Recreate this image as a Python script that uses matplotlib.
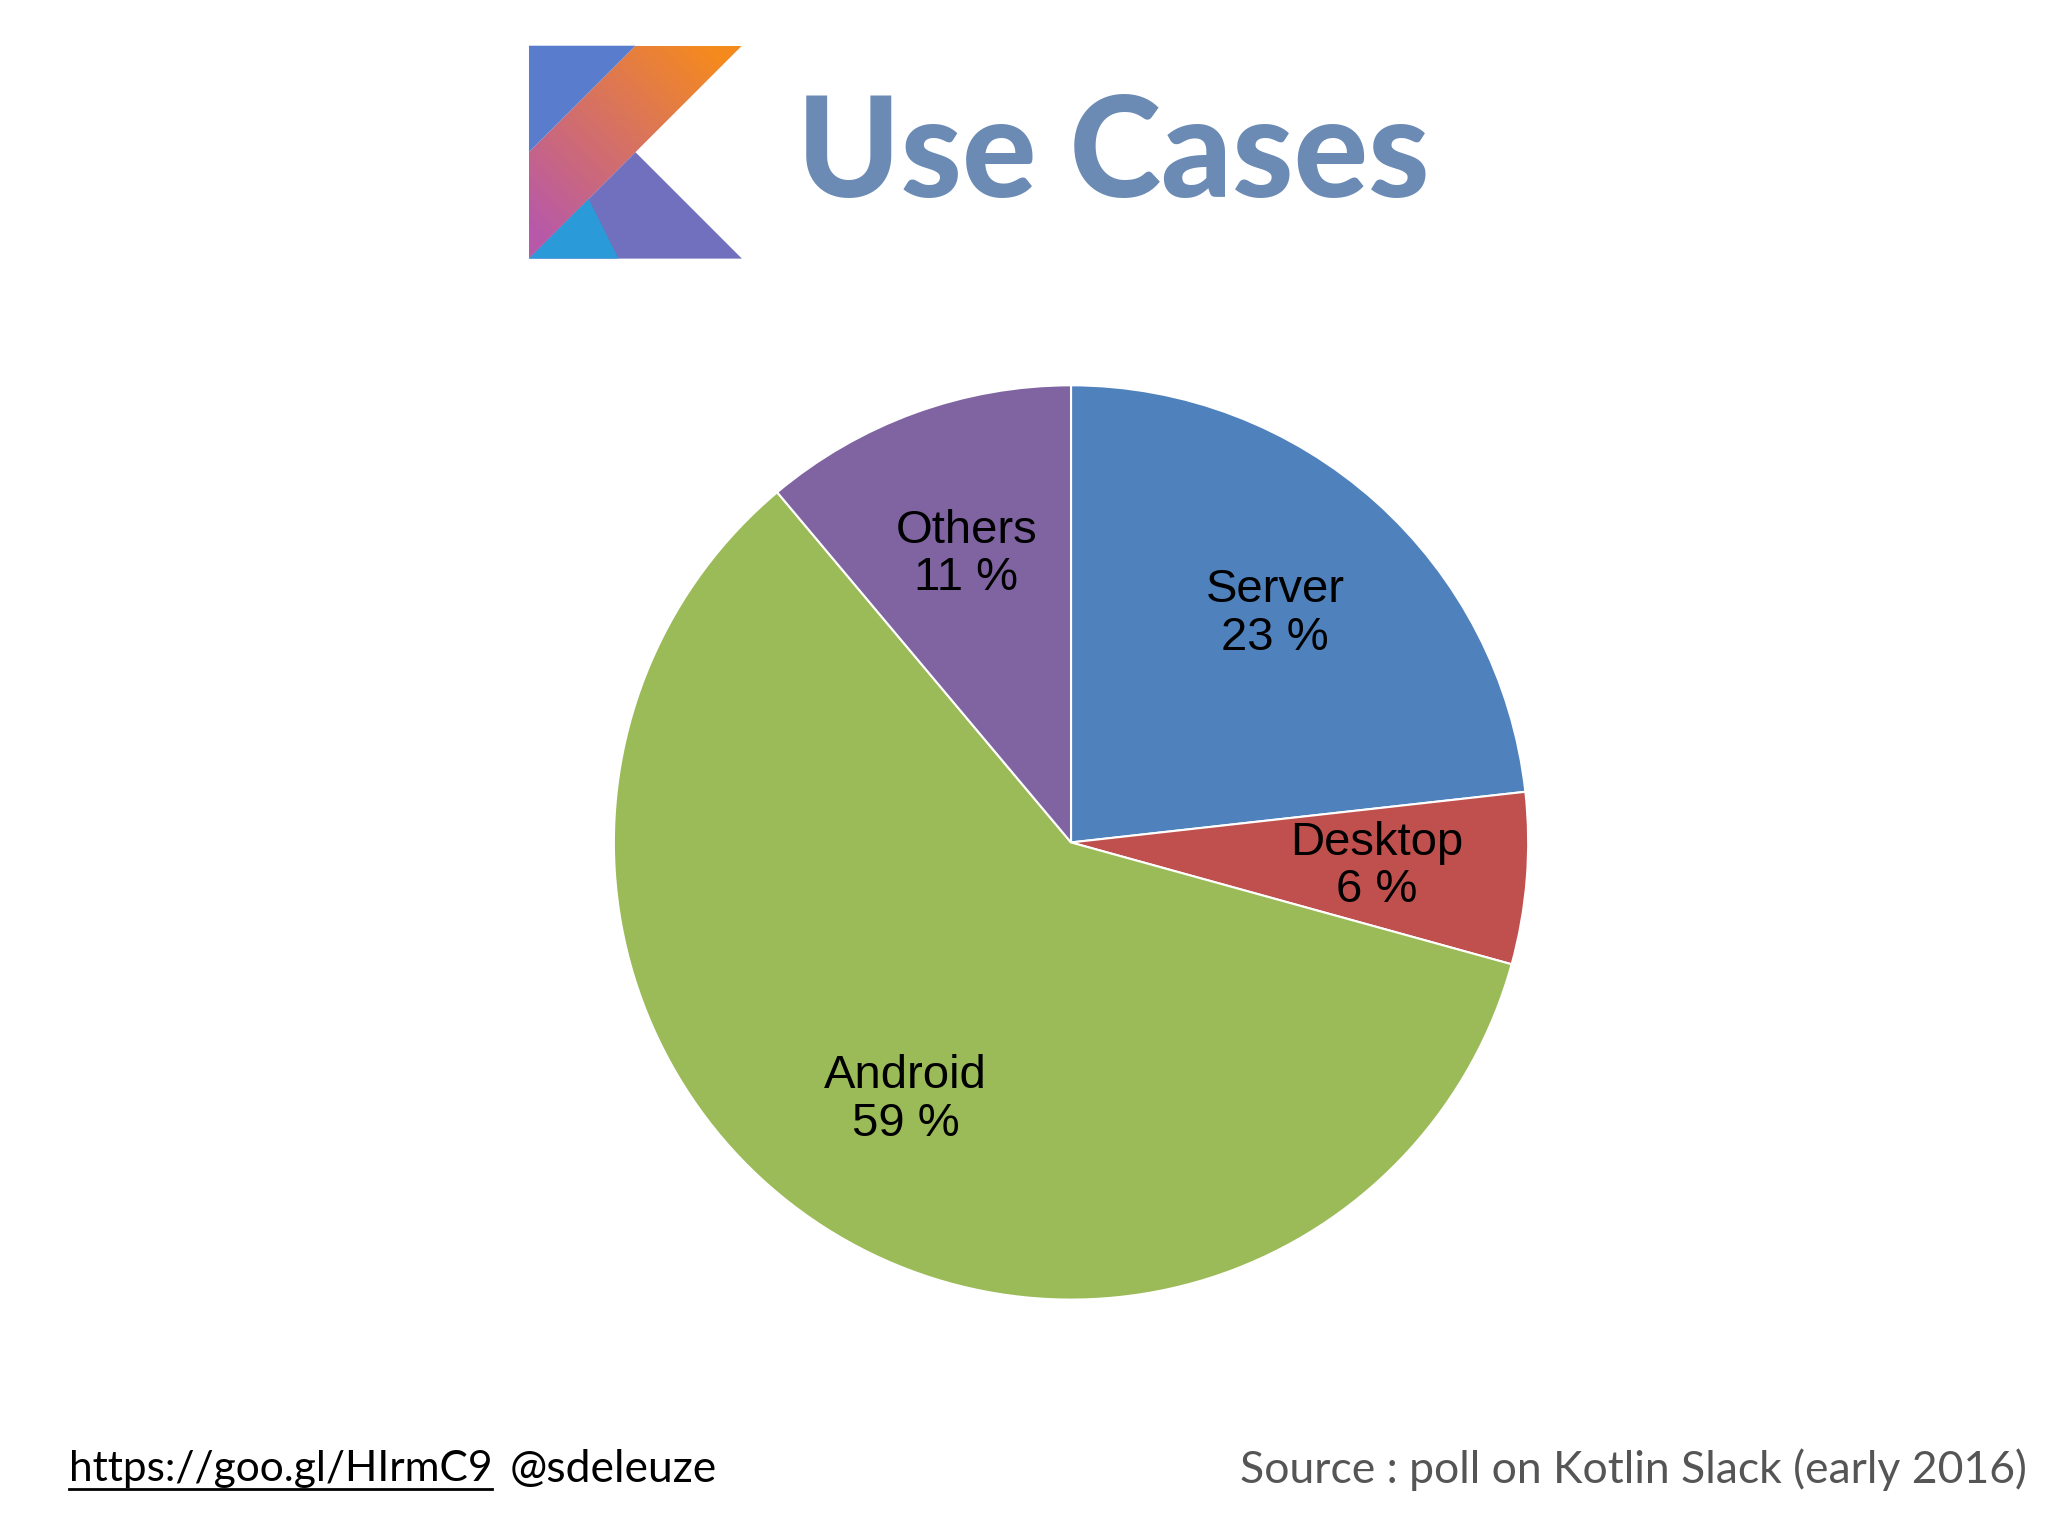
import matplotlib
matplotlib.use("Agg")
import matplotlib.pyplot as plt
import numpy as np
from matplotlib.patches import Polygon

categories = ["Server", "Desktop", "Android", "Others"]
values = [23, 6, 59, 11]
colors = ["#4f81bd", "#c0504d", "#9bbb59", "#8064a2"]

W, H = 1568, 1176
fig = plt.figure(figsize=(20.48, 15.36), dpi=100)
fig.patch.set_facecolor("white")

ov = fig.add_axes([0, 0, 1, 1])
ov.set_xlim(0, W); ov.set_ylim(H, 0); ov.axis("off")

# Kotlin logo
x0, x1, y0, y1 = 405, 568, 35, 198
xm, ym = (x0 + x1) / 2, (y0 + y1) / 2
gy, gx = np.mgrid[0:1:200j, 0:1:200j]
t = np.clip((gx + (1 - gy)) / 2 * 1.2 - 0.1, 0, 1)
c_a = np.array([0.72, 0.35, 0.66]); c_b = np.array([0.96, 0.54, 0.12])
img = c_a[None, None, :] * (1 - t[..., None]) + c_b[None, None, :] * t[..., None]
im = ov.imshow(img, extent=(x0, x1, y1, y0), origin="upper", zorder=2)
band = Polygon([(xm, y0), (x1, y0), (x0, y1), (x0, ym)], closed=True, transform=ov.transData)
im.set_clip_path(band)
ov.add_patch(Polygon([(x0, y0), (xm, y0), (x0, ym)], closed=True, fc="#5a7ccc", ec="none", zorder=3))
ov.add_patch(Polygon([(x0, y1), (xm, ym), (x1, y1)], closed=True, fc="#7070bf", ec="none", zorder=3))
ov.add_patch(Polygon([(x0, y1), (x0 + 0.28 * (x1 - x0), y1 - 0.28 * (y1 - y0)), (x0 + 0.42 * (x1 - x0), y1)],
                     closed=True, fc="#2a9ad8", ec="none", zorder=3.1))

ov.text(610, 120, "Use Cases", fontsize=100, fontweight="black", family="Lato",
        color="#6b8bb5", ha="left", va="center")

ov.text(53, 1125, "https://goo.gl/HIrmC9", fontsize=30.5, family="Lato", color="black",
        ha="left", va="center")
ov.plot([53, 377], [1140, 1140], color="black", lw=2)
ov.text(390, 1125, "@sdeleuze", fontsize=32, family="Lato", color="black", ha="left", va="center")
ov.text(1552, 1125, "Source : poll on Kotlin Slack (early 2016)", fontsize=32, family="Lato",
        color="#555555", ha="right", va="center")

cx, cy, r = 820, 645, 350
ax = fig.add_axes([(cx - r) / W, 1 - (cy + r) / H, 2 * r / W, 2 * r / H])
wedges, _ = ax.pie(values, colors=colors, startangle=90, counterclock=False,
                   wedgeprops=dict(edgecolor="white", linewidth=1.5))
for w, cat, v in zip(wedges, categories, values):
    ang = np.deg2rad((w.theta1 + w.theta2) / 2)
    ax.text(0.67 * np.cos(ang), 0.67 * np.sin(ang), f"{cat}\n{v} %", ha="center", va="center",
            fontsize=34, family="Liberation Sans", color="black", linespacing=1.1)
ax.set_xlim(-1, 1); ax.set_ylim(-1, 1)

fig.savefig("out.png", dpi=100, facecolor="white")
